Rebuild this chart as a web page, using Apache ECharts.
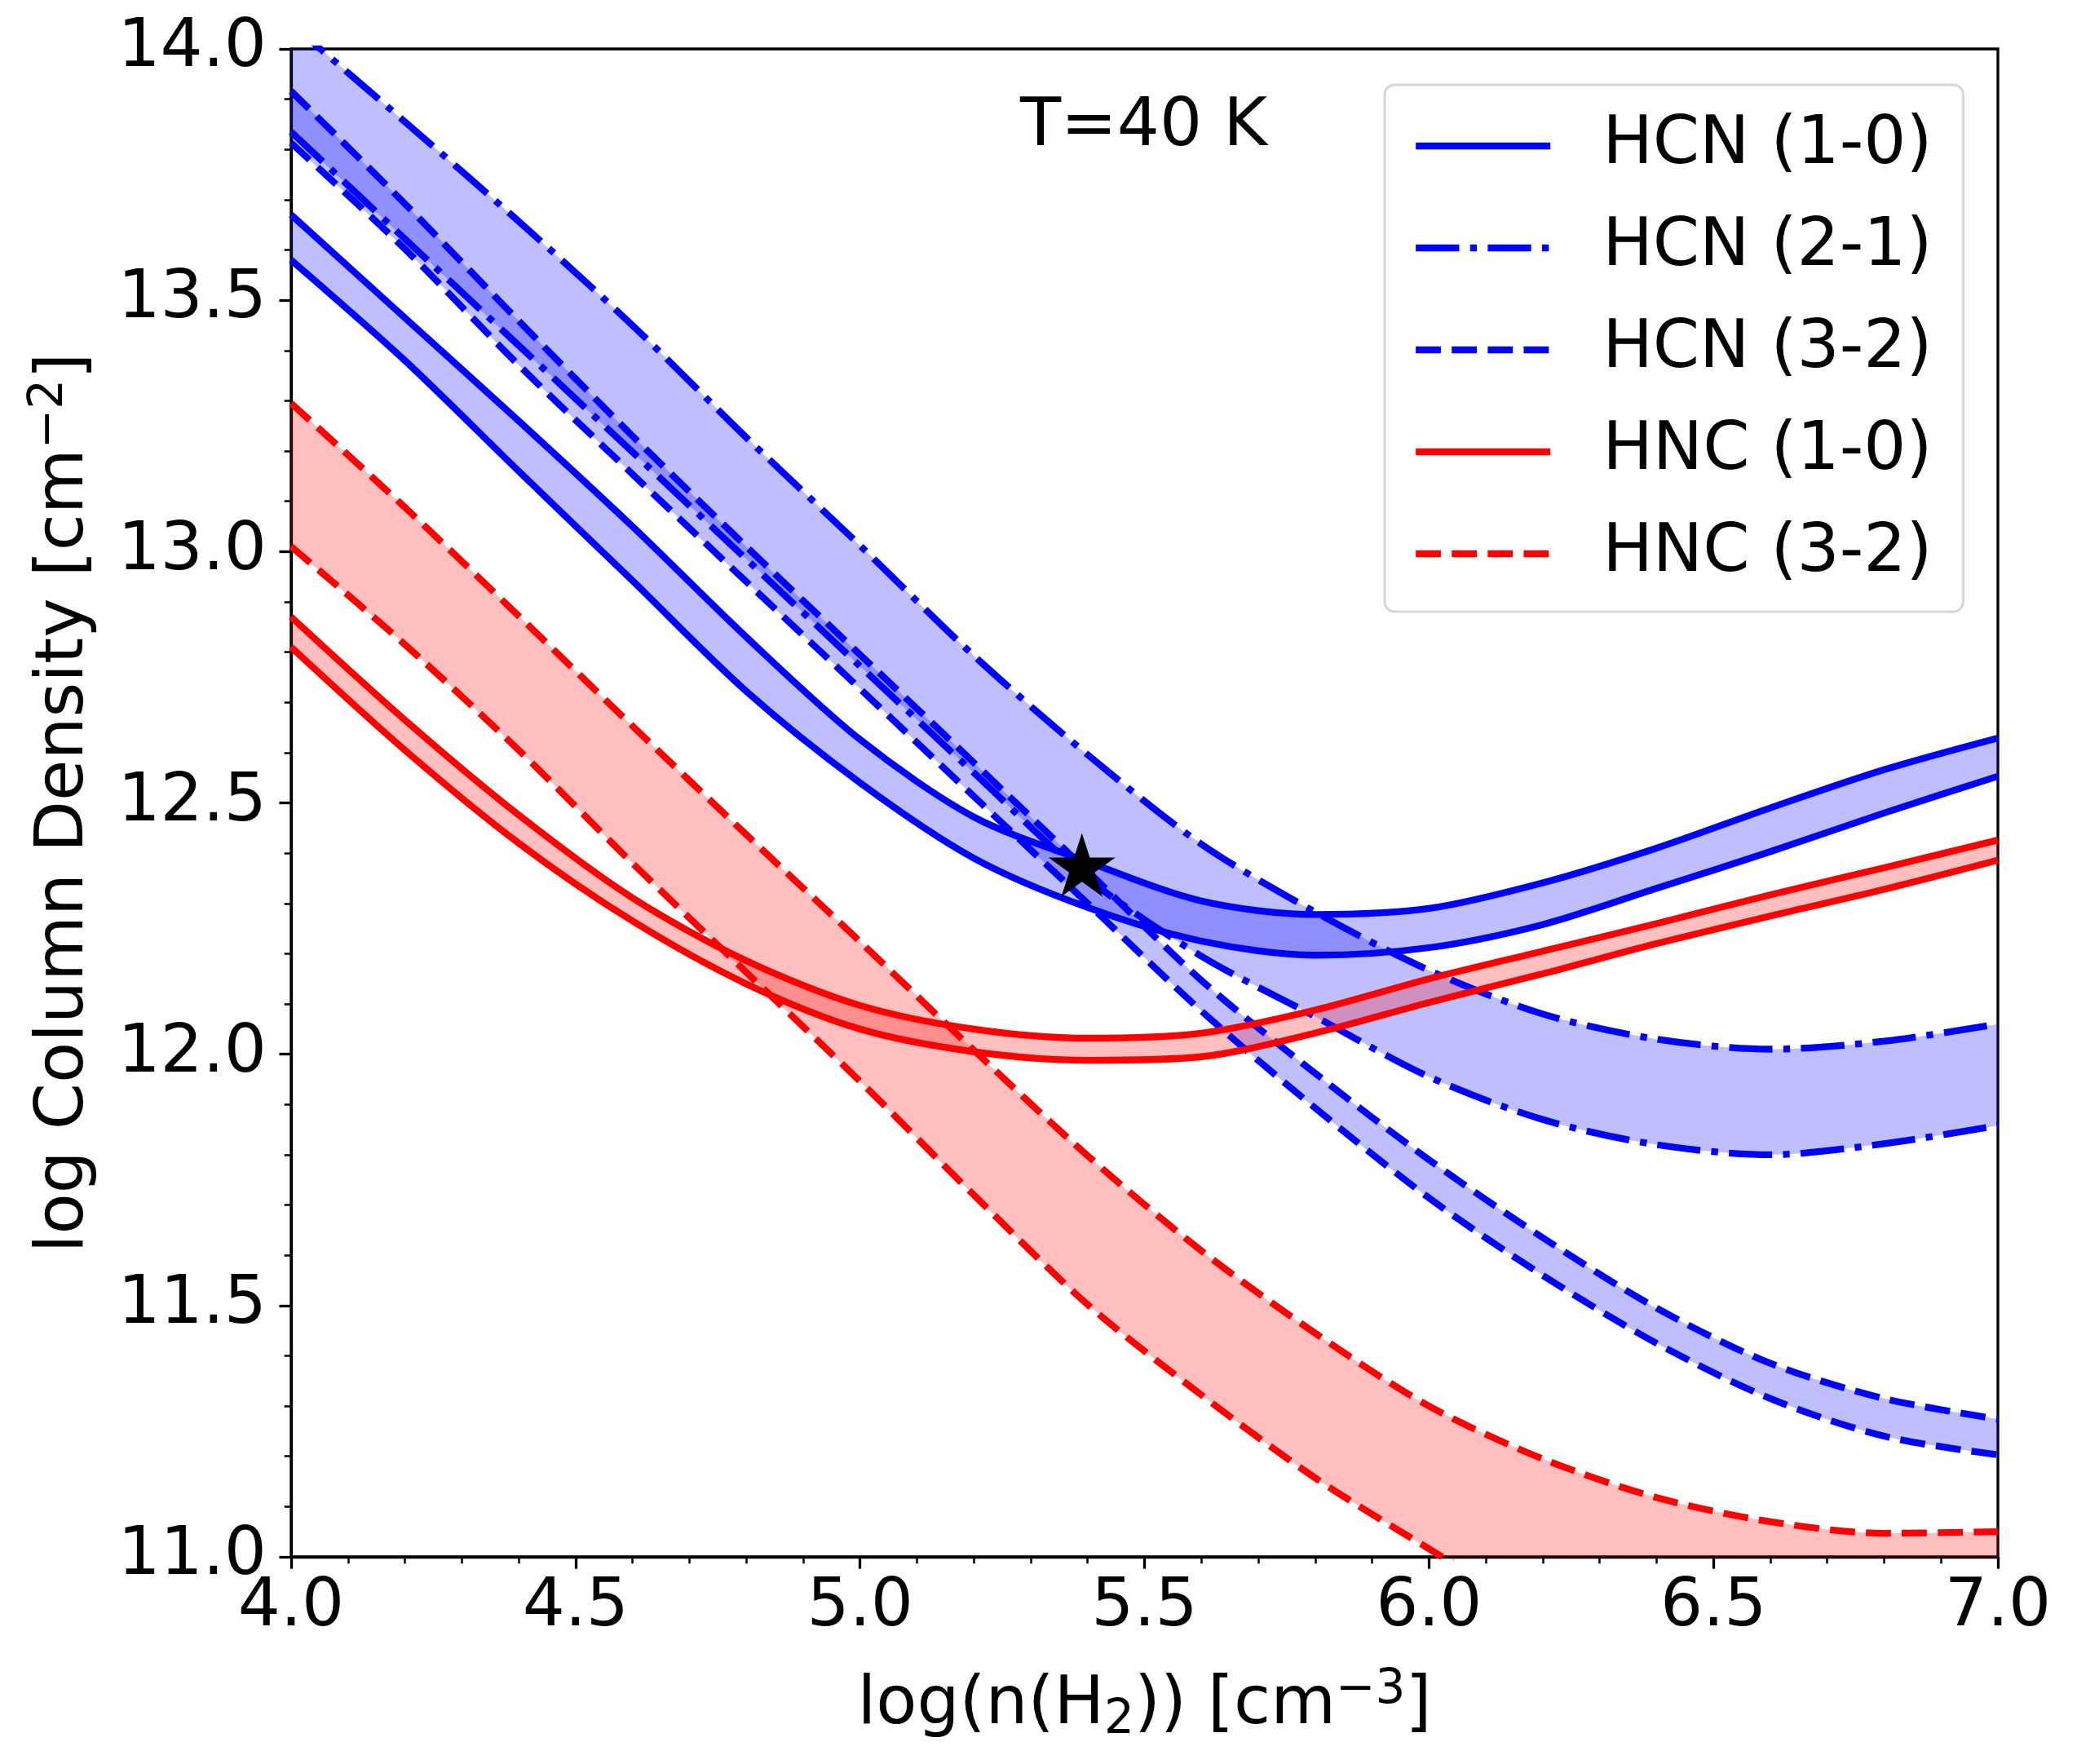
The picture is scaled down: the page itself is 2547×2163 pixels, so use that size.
<!DOCTYPE html>
<html>
<head>
<meta charset="utf-8">
<title>HCN / HNC column density, T=40 K</title>
<script src="https://cdn.jsdelivr.net/npm/echarts@6/dist/echarts.min.js"></script>
<style>
html, body { margin: 0; padding: 0; background: #fff; }
#main { width: 2547px; height: 2163px; }
</style>
</head>
<body>
<div id="main"></div>
<script>
// log(n(H2)) grid of the model curves
var xs = [4.0, 4.2, 4.4, 4.6, 4.8, 5.0, 5.2, 5.4, 5.6, 5.8, 6.0, 6.2, 6.4, 6.6, 6.8, 7.0];

// HCN (1-0), solid
var hcn10Hi = [13.67, 13.465, 13.26, 13.05, 12.83, 12.626, 12.472, 12.383, 12.305, 12.278, 12.29, 12.341, 12.41, 12.49, 12.566, 12.629];
var hcn10Lo = [13.58, 13.38, 13.16, 12.942, 12.722, 12.54, 12.39, 12.292, 12.225, 12.197, 12.212, 12.258, 12.33, 12.403, 12.48, 12.553];
// HCN (2-1), dash-dot
var hcn21Hi = [14.05, 13.855, 13.657, 13.45, 13.227, 13.012, 12.793, 12.596, 12.418, 12.283, 12.167, 12.08, 12.03, 12.01, 12.026, 12.06];
var hcn21Lo = [13.835, 13.622, 13.41, 13.198, 12.985, 12.772, 12.56, 12.35, 12.195, 12.075, 11.955, 11.87, 11.82, 11.80, 11.822, 11.858];
// HCN (3-2), dashed
var hcn32Hi = [13.916, 13.692, 13.459, 13.23, 13.01, 12.795, 12.58, 12.364, 12.147, 11.962, 11.79, 11.635, 11.495, 11.385, 11.315, 11.274];
var hcn32Lo = [13.813, 13.602, 13.371, 13.154, 12.94, 12.727, 12.513, 12.30, 12.086, 11.893, 11.714, 11.56, 11.425, 11.315, 11.24, 11.203];
// HNC (1-0), solid
var hnc10Hi = [12.87, 12.665, 12.476, 12.311, 12.186, 12.097, 12.05, 12.032, 12.042, 12.088, 12.15, 12.205, 12.26, 12.317, 12.371, 12.426];
var hnc10Lo = [12.81, 12.605, 12.42, 12.265, 12.14, 12.05, 12.005, 11.988, 11.995, 12.042, 12.103, 12.16, 12.22, 12.275, 12.328, 12.386];
// HNC (3-2), dashed
var hnc32Hi = [13.295, 13.088, 12.872, 12.653, 12.437, 12.224, 12.008, 11.798, 11.609, 11.445, 11.30, 11.195, 11.118, 11.07, 11.047, 11.05];
var hnc32Lo = [13.01, 12.815, 12.605, 12.38, 12.163, 11.946, 11.72, 11.502, 11.322, 11.157, 11.016, 10.88, 10.75, 10.64, 10.55, 10.48];

// best fit point
var starX = [5.39];
var starY = [12.37];

var legendNames = ['HCN (1-0)', 'HCN (2-1)', 'HCN (3-2)', 'HNC (1-0)', 'HNC (3-2)'];

var FONT = 'DejaVu Sans';
var LW = 8.3;
var SMOOTH = 0.3;
var DASHED = [30.8, 13.3];
var DASHDOT = [53.3, 13.3, 8.3, 13.3];
var BLUE_FILL = 'rgba(0,0,255,0.25)';
var RED_FILL = 'rgba(255,0,0,0.25)';

var legendStyles = [
    { color: '#0000ff', type: 'solid' },
    { color: '#0000ff', type: DASHDOT },
    { color: '#0000ff', type: DASHED },
    { color: '#ff0000', type: 'solid' },
    { color: '#ff0000', type: DASHED }
];

function lineSeries(name, ys, color, dash) {
    return {
        name: name,
        type: 'line',
        xAxisIndex: 0,
        yAxisIndex: 0,
        data: xs.map(function (x, i) { return [x, ys[i]]; }),
        smooth: SMOOTH,
        symbol: 'none',
        z: 3,
        silent: true,
        lineStyle: { color: color, width: LW, type: dash, cap: 'butt' },
        itemStyle: { color: color }
    };
}

// fill between two curves: invisible base + stacked difference with area
function bandSeries(key, lo, hi, fill) {
    return [{
        name: key + ' base',
        type: 'line',
        xAxisIndex: 1,
        yAxisIndex: 0,
        stack: key,
        data: lo,
        smooth: SMOOTH,
        symbol: 'none',
        z: 1,
        silent: true,
        lineStyle: { opacity: 0, width: 0 }
    }, {
        name: key + ' band',
        type: 'line',
        xAxisIndex: 1,
        yAxisIndex: 0,
        stack: key,
        data: hi.map(function (v, i) { return v - lo[i]; }),
        smooth: SMOOTH,
        symbol: 'none',
        z: 1,
        silent: true,
        lineStyle: { opacity: 0, width: 0 },
        areaStyle: { color: fill, opacity: 1 }
    }];
}

var nameRich = {
    sup: { fontSize: 58, lineHeight: 58, verticalAlign: 'top', fontFamily: FONT, color: '#000' },
    sub: { fontSize: 58, lineHeight: 58, verticalAlign: 'bottom', fontFamily: FONT, color: '#000' }
};

function valueAxis(min, max) {
    return {
        type: 'value',
        min: min,
        max: max,
        interval: 0.5,
        axisLine: { show: true, onZero: false, lineStyle: { color: '#000', width: 3.3 } },
        axisTick: { show: true, inside: false, length: 14.6, lineStyle: { color: '#000', width: 3.3 } },
        minorTick: { show: true, splitNumber: 5, length: 8.3, lineStyle: { color: '#000', width: 2.5 } },
        splitLine: { show: false },
        minorSplitLine: { show: false },
        axisLabel: {
            fontSize: 82,
            fontFamily: FONT,
            color: '#000',
            showMinLabel: true,
            showMaxLabel: true,
            formatter: function (v) { return v.toFixed(1); }
        },
        nameLocation: 'middle',
        nameMoveOverlap: false,
        nameTextStyle: { fontSize: 82, fontFamily: FONT, color: '#000', lineHeight: 95, rich: nameRich }
    };
}

var xMain = valueAxis(4, 7);
xMain.name = 'log(n(H{sub|2})) [cm{sup|\u22123}]';
xMain.nameGap = 135;
xMain.axisLabel.margin = 22;

var yMain = valueAxis(11, 14);
yMain.name = 'log Column Density [cm{sup|\u22122}]';
yMain.nameGap = 230;
yMain.nameRotate = 90;
yMain.axisLabel.margin = 30;

var series = [];
series = series.concat(bandSeries('hcn10', hcn10Lo, hcn10Hi, BLUE_FILL));
series = series.concat(bandSeries('hcn21', hcn21Lo, hcn21Hi, BLUE_FILL));
series = series.concat(bandSeries('hcn32', hcn32Lo, hcn32Hi, BLUE_FILL));
series = series.concat(bandSeries('hnc10', hnc10Lo, hnc10Hi, RED_FILL));
series = series.concat(bandSeries('hnc32', hnc32Lo, hnc32Hi, RED_FILL));

series.push(lineSeries('HCN (1-0)', hcn10Hi, '#0000ff', 'solid'));
series.push(lineSeries('HCN (1-0) low', hcn10Lo, '#0000ff', 'solid'));
series.push(lineSeries('HCN (2-1)', hcn21Hi, '#0000ff', DASHDOT));
series.push(lineSeries('HCN (2-1) low', hcn21Lo, '#0000ff', DASHDOT));
series.push(lineSeries('HCN (3-2)', hcn32Hi, '#0000ff', DASHED));
series.push(lineSeries('HCN (3-2) low', hcn32Lo, '#0000ff', DASHED));
series.push(lineSeries('HNC (1-0)', hnc10Hi, '#ff0000', 'solid'));
series.push(lineSeries('HNC (1-0) low', hnc10Lo, '#ff0000', 'solid'));
series.push(lineSeries('HNC (3-2)', hnc32Hi, '#ff0000', DASHED));
series.push(lineSeries('HNC (3-2) low', hnc32Lo, '#ff0000', DASHED));

series.push({
    name: 'best',
    type: 'scatter',
    xAxisIndex: 0,
    yAxisIndex: 0,
    data: starX.map(function (x, i) { return [x, starY[i]]; }),
    symbol: 'path://M0,-1 L0.2245,-0.309 L0.9511,-0.309 L0.3633,0.118 L0.5878,0.809 L0,0.382 L-0.5878,0.809 L-0.3633,0.118 L-0.9511,-0.309 L-0.2245,-0.309 Z',
    symbolSize: [82, 78],
    symbolOffset: [0, -4],
    itemStyle: { color: '#000', opacity: 1 },
    z: 5,
    silent: true
});

var chart = echarts.init(document.getElementById('main'));
var option = {
    animation: false,
    backgroundColor: '#fff',
    grid: {
        left: 357,
        right: 97,
        top: 60,
        bottom: 254,
        show: true,
        borderColor: '#000',
        borderWidth: 3.3,
        backgroundColor: 'transparent',
        outerBoundsMode: 'none'
    },
    xAxis: [xMain, {
        type: 'category',
        data: xs.map(function (x) { return x.toFixed(1); }),
        boundaryGap: false,
        show: false
    }],
    yAxis: [yMain],
    legend: {
        data: legendNames.map(function (n, i) {
            return {
                name: n,
                itemStyle: { opacity: 0 },
                lineStyle: { color: legendStyles[i].color, width: LW, type: legendStyles[i].type, cap: 'butt', opacity: 1 }
            };
        }),
        orient: 'vertical',
        left: 1698,
        top: 104,
        itemWidth: 165,
        itemHeight: 30,
        itemGap: 43,
        padding: [34, 38, 30, 34],
        backgroundColor: 'rgba(255,255,255,0.8)',
        borderColor: 'rgba(204,204,204,0.8)',
        borderWidth: 3,
        borderRadius: 12,
        selectedMode: false,
        textStyle: { fontSize: 82, fontFamily: FONT, color: '#000', lineHeight: 80, padding: [0, 0, 0, 59] }
    },
    graphic: [{
        type: 'text',
        left: 1251,
        top: 116,
        style: { text: 'T=40 K', font: '82px "DejaVu Sans"', fill: '#000' }
    }],
    series: series
};
chart.setOption(option);

window.onresize = function () {
    chart.resize();
};
</script>
</body>
</html>
